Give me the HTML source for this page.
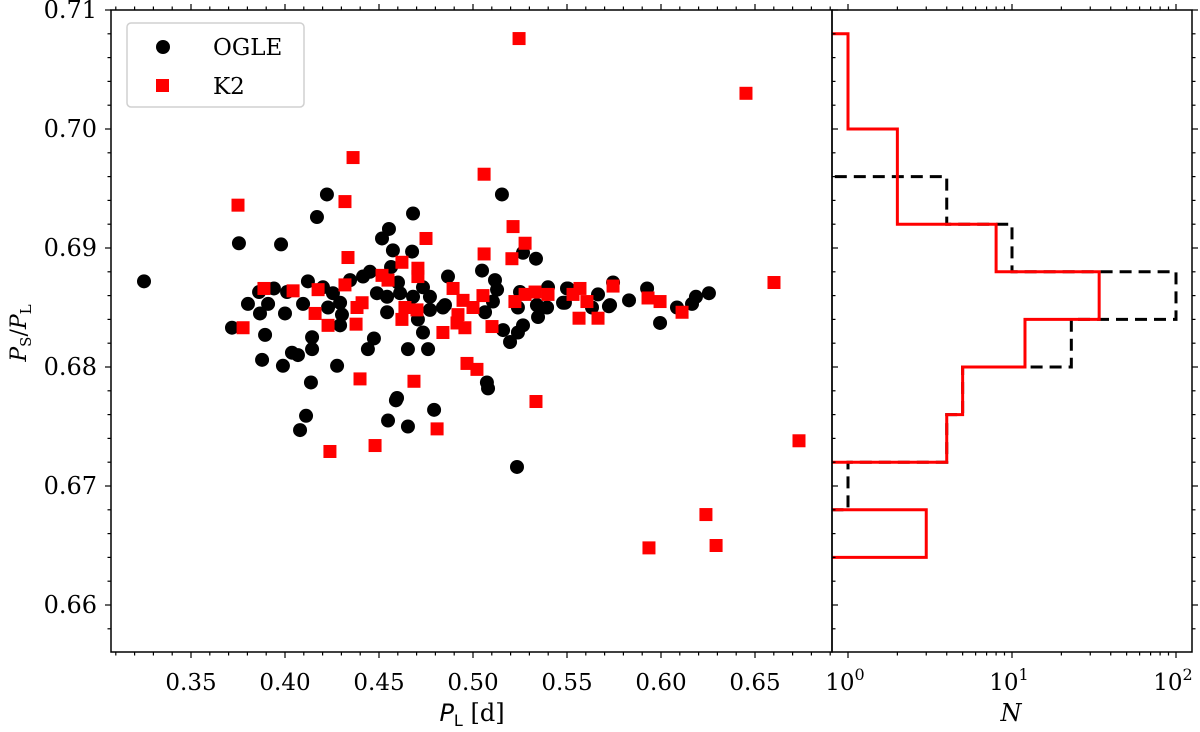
<!DOCTYPE html>
<html><head><meta charset="utf-8"><style>
html,body{margin:0;padding:0;background:#fff;}
svg text{font-family:"DejaVu Serif","Liberation Serif",serif;}
</style></head><body>
<svg id="chart" width="1200" height="727" viewBox="0 0 1200 727" xmlns="http://www.w3.org/2000/svg">
<g id="scatter"></g>
<g id="hist"></g>
<g id="axes"></g>
<g>
  <rect x="127" y="23" width="177" height="84" rx="4" fill="#fff" stroke="#d0d0d0" stroke-width="1.5"/>
  <circle cx="163" cy="47" r="7" fill="#000"/>
  <text x="213" y="55" font-size="23">OGLE</text>
  <rect x="156" y="79" width="13" height="13" fill="#ff0000"/>
  <text x="213" y="94" font-size="23">K2</text>
</g>
<text x="472" y="721" font-size="24" text-anchor="middle"><tspan font-style="italic" font-family="DejaVu Sans, sans-serif">P</tspan><tspan font-size="16" dy="5" font-family="DejaVu Sans, sans-serif">L</tspan><tspan dy="-5"> [d]</tspan></text>
<text x="1011" y="721" font-size="24" text-anchor="middle" font-style="italic" font-family="DejaVu Sans, sans-serif">N</text>
<text transform="translate(26,333) rotate(-90)" font-size="22" text-anchor="middle" font-family="DejaVu Sans, sans-serif"><tspan font-style="italic">P</tspan><tspan font-size="15" dy="5">S</tspan><tspan dy="-5">/</tspan><tspan font-style="italic">P</tspan><tspan font-size="15" dy="5">L</tspan></text>
</svg>
<script>
const ogleX=[0.325,0.3755,0.3979,0.4223,0.4170,0.4681,0.4553,0.4516,0.4574,0.4676,0.4564,0.4867,0.3718,0.3862,0.3941,0.4011,0.3803,0.3910,0.3867,0.4000,0.4122,0.4096,0.4229,0.4293,0.4303,0.4202,0.4255,0.4293,0.4346,0.4415,0.4452,0.4489,0.4543,0.4543,0.4601,0.4612,0.4681,0.4734,0.4771,0.4771,0.4707,0.4851,0.4734,0.3894,0.4144,0.4144,0.4037,0.4069,0.3878,0.3989,0.4277,0.4473,0.4441,0.4654,0.4761,0.4138,0.4596,0.4793,0.4112,0.4080,0.4548,0.4654,0.5154,0.5266,0.5335,0.5048,0.5117,0.5128,0.5106,0.5064,0.5250,0.5239,0.5340,0.5346,0.5399,0.5394,0.5479,0.5505,0.5665,0.5729,0.5745,0.5160,0.5266,0.5239,0.5197,0.5074,0.5080,0.4840,0.5500,0.5489,0.5633,0.5723,0.5830,0.5926,0.5995,0.6085,0.6165,0.6186,0.6255,0.4590,0.5234];
const ogleY=[0.6872,0.6904,0.6903,0.6945,0.6926,0.6929,0.6916,0.6908,0.6898,0.6897,0.6884,0.6876,0.6833,0.6863,0.6866,0.6863,0.6853,0.6853,0.6845,0.6845,0.6872,0.6853,0.6850,0.6835,0.6844,0.6867,0.6862,0.6854,0.6873,0.6876,0.6880,0.6862,0.6859,0.6846,0.6871,0.6862,0.6859,0.6867,0.6859,0.6848,0.6840,0.6852,0.6829,0.6827,0.6825,0.6815,0.6812,0.6810,0.6806,0.6801,0.6801,0.6824,0.6815,0.6815,0.6815,0.6787,0.6774,0.6764,0.6759,0.6747,0.6755,0.6750,0.6945,0.6896,0.6891,0.6881,0.6873,0.6865,0.6855,0.6846,0.6863,0.6850,0.6852,0.6842,0.6867,0.6850,0.6854,0.6866,0.6861,0.6852,0.6871,0.6831,0.6835,0.6829,0.6821,0.6787,0.6782,0.6850,0.6866,0.6854,0.6850,0.6851,0.6856,0.6866,0.6837,0.6850,0.6853,0.6859,0.6862,0.6772,0.6716];
const k2X=[0.3750,0.4319,0.4362,0.5245,0.3888,0.4043,0.4176,0.4319,0.4160,0.4229,0.4378,0.4383,0.4410,0.4335,0.4516,0.4548,0.4622,0.4707,0.4707,0.4750,0.4638,0.4702,0.4622,0.3777,0.4399,0.4686,0.4809,0.5059,0.5213,0.5277,0.5059,0.5207,0.4894,0.5053,0.4947,0.5000,0.4920,0.4915,0.4957,0.4840,0.5101,0.5223,0.5277,0.5330,0.5399,0.5569,0.5532,0.5606,0.5564,0.5665,0.5745,0.5931,0.5995,0.6112,0.4968,0.5021,0.5335,0.6452,0.6601,0.6734,0.4239,0.4479,0.5936,0.6239,0.6293];
const k2Y=[0.6936,0.6939,0.6976,0.7076,0.6866,0.6864,0.6865,0.6869,0.6845,0.6835,0.6836,0.6850,0.6854,0.6892,0.6877,0.6873,0.6888,0.6883,0.6876,0.6908,0.6850,0.6848,0.6840,0.6833,0.6790,0.6788,0.6748,0.6962,0.6918,0.6904,0.6895,0.6891,0.6866,0.6860,0.6856,0.6850,0.6844,0.6837,0.6833,0.6829,0.6834,0.6855,0.6861,0.6863,0.6861,0.6866,0.6861,0.6855,0.6841,0.6841,0.6868,0.6858,0.6855,0.6846,0.6803,0.6798,0.6771,0.7030,0.6871,0.6738,0.6729,0.6734,0.6648,0.6676,0.6650];
const binEdges=[0.664,0.668,0.672,0.676,0.680,0.684,0.688,0.692,0.696,0.700,0.704,0.708];
const k2Counts=[3,0,4,5,12,34,8,2,2,1,1];
const ogleCounts=[0,1,4,5,23,100,10,4,0,0,0];
const xTicks=[0.35,0.40,0.45,0.50,0.55,0.60,0.65];
const yTicks=[0.66,0.67,0.68,0.69,0.70,0.71];

const NS="http://www.w3.org/2000/svg";
const L=111,R=832,T=10,B=652,HR=1192;
const sx=v=>191+(v-0.35)*1880;
const sy=v=>10+(0.71-v)*11900;
const hx=c=>848+Math.log10(c)*164;
function mk(tag,attrs,parent){const e=document.createElementNS(NS,tag);for(const k in attrs)e.setAttribute(k,attrs[k]);parent.appendChild(e);return e;}

const sc=document.getElementById('scatter');
ogleX.forEach((x,i)=>{const c=mk('circle',{cx:sx(x),cy:sy(ogleY[i]),r:7,fill:'#000'},sc);

});
k2X.forEach((x,i)=>{const r=mk('rect',{x:sx(x)-6.5,y:sy(k2Y[i])-6.5,width:13,height:13,fill:'#ff0000'},sc);

});

const hg=document.getElementById('hist');
const clip=mk('clipPath',{id:'hc'},hg);mk('rect',{x:R,y:T,width:HR-R,height:B-T},clip);
function stepPath(counts){let d='M'+R+','+sy(binEdges[0]);
 counts.forEach((c,i)=>{const x=c>0?hx(c):R-5;d+=' L'+x+','+sy(binEdges[i])+' L'+x+','+sy(binEdges[i+1]);});
 d+=' L'+(R-5)+','+sy(binEdges[binEdges.length-1]);return d;}
const po=mk('path',{d:stepPath(ogleCounts),fill:'none',stroke:'#000','stroke-width':3,'stroke-dasharray':'12,7','clip-path':'url(#hc)'},hg);


const pk=mk('path',{d:stepPath(k2Counts),fill:'none',stroke:'#ff0000','stroke-width':3,'clip-path':'url(#hc)'},hg);



const ax=document.getElementById('axes');
mk('rect',{x:L,y:T,width:R-L,height:B-T,fill:'none',stroke:'#000','stroke-width':1.5},ax);
mk('rect',{x:R,y:T,width:HR-R,height:B-T,fill:'none',stroke:'#000','stroke-width':1.5},ax);
for(let v=0.31;v<0.695;v+=0.01){const x=sx(v);const maj=xTicks.some(t=>Math.abs(t-v)<1e-6);const len=maj?6:3.5;
 mk('line',{x1:x,y1:B,x2:x,y2:B+len,stroke:'#000','stroke-width':1.2},ax);
 mk('line',{x1:x,y1:T,x2:x,y2:T-len,stroke:'#000','stroke-width':1.2},ax);}
xTicks.forEach(v=>{const t=mk('text',{x:sx(v),y:690,'font-size':23,'text-anchor':'middle'},ax);t.textContent=v.toFixed(2);

});
for(let k=0;k<=26;k++){const v=0.658+k*0.002;if(v>0.7101)break;const y=sy(v);const maj=yTicks.some(t=>Math.abs(t-v)<1e-6);const len=maj?6:3.5;
 mk('line',{x1:L-len,y1:y,x2:L,y2:y,stroke:'#000','stroke-width':1.2},ax);
 mk('line',{x1:R,y1:y,x2:R+len,y2:y,stroke:'#000','stroke-width':1.2},ax);
 mk('line',{x1:HR,y1:y,x2:HR+len,y2:y,stroke:'#000','stroke-width':1.2},ax);}
yTicks.forEach(v=>{const t=mk('text',{x:97,y:sy(v)+8,'font-size':24,'text-anchor':'end'},ax);t.textContent=v.toFixed(2);

});
for(let d=0;d<=2;d++){for(let m=1;m<10;m++){const c=m*Math.pow(10,d);const x=hx(c);if(x>HR)break;const len=m===1?6:3.5;
 mk('line',{x1:x,y1:B,x2:x,y2:B+len,stroke:'#000','stroke-width':1.2},ax);
 mk('line',{x1:x,y1:T,x2:x,y2:T-len,stroke:'#000','stroke-width':1.2},ax);}}
[0,1,2].forEach(d=>{const t=mk('text',{x:hx(Math.pow(10,d))-3,y:690,'font-size':23,'text-anchor':'middle'},ax);


t.appendChild(document.createTextNode('10'));const s=mk('tspan',{'font-size':16,dy:-10},t);s.textContent=String(d);});
</script>
</body></html>
